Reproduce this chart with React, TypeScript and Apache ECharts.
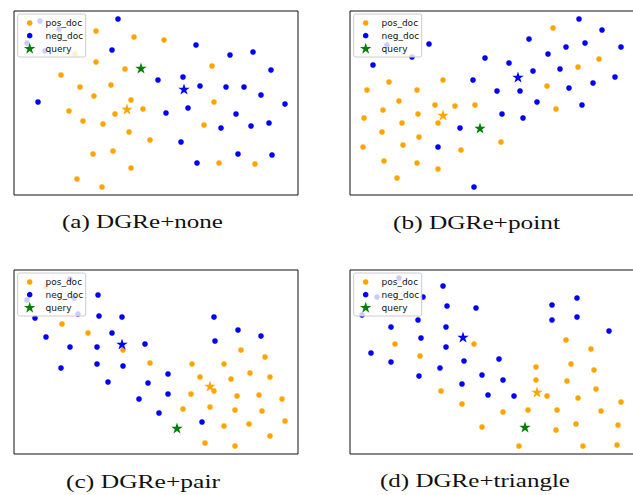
import React, { useEffect, useRef } from "react";
import * as echarts from "echarts";

// ---------- data (t-SNE style coordinates, x to the right, y upward) ----------
const legendNames = ["pos_doc", "neg_doc", "query"];
const captions = ["(a) DGRe+none", "(b) DGRe+point", "(c) DGRe+pair", "(d) DGRe+triangle"];

const posA = [[82,164],[120,158],[150,155],[82,133],[111,126],[47,120],[97,110],[66,108],[80,99],[117,95],[129,86],[55,84],[101,81],[69,74],[89,71],[115,63],[136,55],[198,129],[200,93],[190,70],[99,44],[79,41],[117,27],[205,32],[241,31],[63,16],[88,8],[61,141]];
const negA = [[104,176],[98,145],[182,150],[216,140],[239,143],[257,125],[144,115],[169,118],[186,109],[212,108],[230,108],[247,100],[271,91],[24,93],[174,87],[152,82],[222,81],[207,67],[237,69],[255,72],[167,53],[224,41],[258,40],[183,32],[26,174],[45,166],[13,152],[31,144]];
const posCenterA = [113, 86];
const negCenterA = [170, 106];
const queryA = [127, 127];

const posB = [[203,167],[249,136],[228,128],[39,113],[93,115],[17,105],[67,105],[197,109],[49,94],[85,90],[105,89],[125,90],[206,86],[33,85],[68,81],[14,77],[52,72],[88,72],[32,63],[69,58],[53,50],[13,48],[111,45],[151,53],[34,34],[67,32],[88,26],[47,17]];
const negB = [[229,176],[252,165],[179,156],[235,152],[216,148],[271,148],[198,141],[79,151],[23,130],[135,137],[159,132],[183,124],[210,126],[123,115],[265,118],[243,112],[219,107],[147,104],[170,104],[187,93],[232,90],[152,81],[173,77],[110,67],[88,48],[124,8],[37,150],[62,138]];
const posCenterB = [93, 80];
const negCenterB = [168, 118];
const queryB = [130, 67];

const posC = [[48,130],[74,121],[109,104],[136,91],[178,90],[210,90],[227,104],[251,97],[236,81],[186,77],[217,75],[256,77],[200,63],[177,60],[223,58],[245,59],[268,55],[169,45],[196,47],[221,44],[248,43],[271,33],[210,28],[235,30],[256,18],[191,11],[221,8],[32,167]];
const negC = [[84,159],[85,138],[108,137],[21,136],[32,117],[98,121],[56,107],[83,107],[131,110],[47,86],[83,90],[109,88],[94,72],[134,71],[154,80],[125,55],[154,60],[145,41],[188,32],[200,137],[224,124],[247,118],[201,113],[56,175],[60,156],[13,154],[64,140]];
const posCenterC = [196, 68];
const negCenterC = [108, 110];
const queryC = [163, 26];

const posD = [[45,110],[70,98],[124,110],[216,114],[241,105],[186,87],[221,90],[244,84],[186,74],[217,73],[246,65],[91,63],[112,50],[197,58],[228,56],[271,52],[153,42],[178,44],[207,44],[251,43],[132,27],[206,24],[226,30],[268,29],[169,8],[233,8],[267,9],[47,144]];
const negD = [[93,168],[73,157],[97,148],[126,146],[202,149],[227,156],[202,134],[227,137],[259,123],[12,139],[68,134],[41,127],[96,127],[71,116],[96,107],[21,101],[41,92],[114,93],[149,95],[90,86],[69,78],[132,79],[153,74],[112,70],[138,59],[164,58],[49,176],[27,157]];
const posCenterD = [187, 62];
const negCenterD = [113, 117];
const queryD = [175, 27];

const xRange = [0, 284];
const yRange = [0, 184];

// ---------- layout / style ----------
const ORANGE = "#ffa500";
const BLUE = "#0000ff";
const GREEN = "#008000";
const PANEL_W = 284;
const PANEL_H = 184;
const panelLeft = [14, 350, 14, 350];
const panelTop = [11, 11, 270, 270];
const captionCenterX = [142.5, 476.5, 143, 475];
const captionWidth = [161, 167, 154, 190];
const captionMiddleY = [222.5, 222.5, 481.5, 481.5];
const CAPTION_FONT_SIZE = 18;
const CAPTION_FONT = "Liberation Serif";

const STAR =
  "path://M50,0L61.2,34.5L97.6,34.5L68.2,55.9L79.4,90.5L50,69.1L20.6,90.5L31.8,55.9L2.4,34.5L38.8,34.5Z";

function starPoints(cx: number, cy: number, R: number) {
  const pts: number[][] = [];
  const r = R * 0.382;
  for (let k = 0; k < 10; k++) {
    const ang = ((-90 + 36 * k) * Math.PI) / 180;
    const rad = k % 2 === 0 ? R : r;
    pts.push([cx + rad * Math.cos(ang), cy + rad * Math.sin(ang) + R * 0.05]);
  }
  return pts;
}

function measure(text: string) {
  const c = document.createElement("canvas").getContext("2d");
  if (!c) return text.length * 9;
  c.font = `${CAPTION_FONT_SIZE}px "${CAPTION_FONT}"`;
  return c.measureText(text).width;
}

const panels = [
  { pos: posA, neg: negA, pc: posCenterA, nc: negCenterA, q: queryA },
  { pos: posB, neg: negB, pc: posCenterB, nc: negCenterB, q: queryB },
  { pos: posC, neg: negC, pc: posCenterC, nc: negCenterC, q: queryC },
  { pos: posD, neg: negD, pc: posCenterD, nc: negCenterD, q: queryD },
];

export default function App() {
  const ref = useRef<HTMLDivElement>(null);

  useEffect(() => {
    if (!ref.current) return;
    const chart = echarts.init(ref.current, undefined, { renderer: "svg" });

    const grids: any[] = [];
    const xAxes: any[] = [];
    const yAxes: any[] = [];
    const series: any[] = [];
    const graphics: any[] = [];

    panels.forEach((p, i) => {
      const L = panelLeft[i];
      const T = panelTop[i];
      grids.push({
        left: L,
        top: T,
        width: PANEL_W,
        height: PANEL_H,
        outerBoundsMode: "none",
        show: true,
        borderColor: "#111",
        borderWidth: 1,
        backgroundColor: "transparent",
      });
      xAxes.push({ gridIndex: i, type: "value", min: xRange[0], max: xRange[1], show: false });
      yAxes.push({ gridIndex: i, type: "value", min: yRange[0], max: yRange[1], show: false });

      const common = { type: "scatter", xAxisIndex: i, yAxisIndex: i, silent: true };
      series.push({ ...common, name: legendNames[0], data: p.pos, symbol: "circle", symbolSize: 5.6, itemStyle: { color: ORANGE, opacity: 1 }, z: 2 });
      series.push({ ...common, name: legendNames[1], data: p.neg, symbol: "circle", symbolSize: 5.6, itemStyle: { color: BLUE, opacity: 1 }, z: 2 });
      series.push({ ...common, name: "pos_center", data: [p.pc], symbol: STAR, symbolKeepAspect: true, symbolSize: 11.5, itemStyle: { color: ORANGE, opacity: 1 }, z: 3 });
      series.push({ ...common, name: "neg_center", data: [p.nc], symbol: STAR, symbolKeepAspect: true, symbolSize: 11.5, itemStyle: { color: BLUE, opacity: 1 }, z: 3 });
      series.push({ ...common, name: legendNames[2], data: [p.q], symbol: STAR, symbolKeepAspect: true, symbolSize: 11.5, itemStyle: { color: GREEN, opacity: 1 }, z: 3 });

      // matplotlib-like legend
      graphics.push({
        type: "rect",
        shape: { x: L + 3.7, y: T + 3, width: 68, height: 43, r: 2 },
        style: { fill: "rgba(255,255,255,0.8)", stroke: "#cccccc", lineWidth: 1 },
        z: 100,
        silent: true,
      });
      graphics.push({ type: "circle", shape: { cx: L + 15.7, cy: T + 12, r: 2.8 }, style: { fill: ORANGE }, z: 101, silent: true });
      graphics.push({ type: "circle", shape: { cx: L + 15.7, cy: T + 24.7, r: 2.8 }, style: { fill: BLUE }, z: 101, silent: true });
      graphics.push({ type: "polygon", shape: { points: starPoints(L + 15.7, T + 37.5, 6) }, style: { fill: GREEN }, z: 101, silent: true });
      [12, 24.7, 37.5].forEach((dy, k) => {
        graphics.push({
          type: "text",
          x: L + 31.5,
          y: T + dy,
          z: 102,
          silent: true,
          style: {
            text: legendNames[k],
            fill: "#111",
            fontSize: 9,
            fontFamily: "DejaVu Sans",
            align: "left",
            verticalAlign: "middle",
          },
        });
      });

      // caption
      const w = measure(captions[i]);
      graphics.push({
        type: "text",
        x: captionCenterX[i],
        y: captionMiddleY[i],
        scaleX: captionWidth[i] / w,
        silent: true,
        z: 102,
        style: {
          text: captions[i],
          fill: "#111",
          fontSize: CAPTION_FONT_SIZE,
          fontFamily: CAPTION_FONT,
          align: "center",
          verticalAlign: "middle",
        },
      });
    });

    chart.setOption({
      animation: false,
      backgroundColor: "#ffffff",
      grid: grids,
      xAxis: xAxes,
      yAxis: yAxes,
      series,
      graphic: { elements: graphics },
    });

    return () => chart.dispose();
  }, []);

  return (
    <div
      style={{ position: "absolute", left: 0, top: 0, width: 633, height: 495, overflow: "hidden", background: "#fff" }}
    >
      <div ref={ref} style={{ width: 645, height: 495 }} />
    </div>
  );
}
